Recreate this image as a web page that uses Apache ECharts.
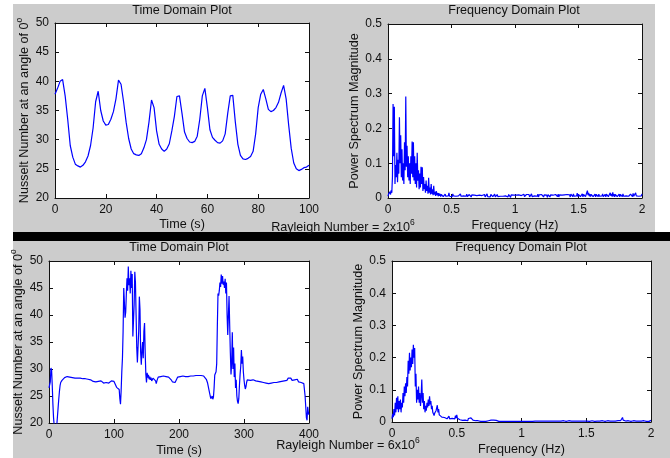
<!DOCTYPE html>
<html>
<head>
<meta charset="utf-8">
<script src="https://cdn.jsdelivr.net/npm/echarts@6/dist/echarts.min.js"></script>
<style>
  html, body { margin: 0; padding: 0; background: #fff; }
  #chart { width: 670px; height: 458px; }
</style>
</head>
<body>
<div id="chart"></div>
<script>
// Ra = 2x10^6, Nusselt number sampled every second (0..100 s)
const nuTopStep = 1;
const nuTop = [
  37.8, 38.8, 40.0, 40.3, 37.5, 33.5, 29.0, 27.0, 25.8, 25.5,
  25.3, 25.6, 26.2, 27.2, 29.0, 32.0, 36.5, 38.3, 35.0, 33.2,
  32.5, 32.6, 33.5, 34.8, 37.0, 40.2, 39.5, 36.5, 33.0, 30.2,
  28.4, 27.6, 27.4, 27.3, 27.6, 28.6, 30.0, 33.0, 36.8, 35.5,
  31.5, 29.2, 28.4, 28.0, 28.4, 29.3, 31.5, 34.0, 37.4, 37.5,
  34.5, 31.3, 30.2, 29.6, 29.5, 29.7, 30.6, 33.5, 37.5, 38.8,
  35.5, 31.7, 30.4, 29.9, 29.5, 29.4, 29.8, 31.0, 34.5, 37.5,
  37.6, 33.0, 29.2, 27.3, 26.7, 26.6, 26.8, 27.1, 28.0, 31.0,
  35.5, 37.8, 38.6, 37.0, 35.2, 34.8, 35.0, 35.5, 36.4, 38.0,
  39.3, 37.0, 32.5, 28.5, 26.0, 25.0, 24.7, 24.9, 25.2, 25.3,
  25.6
];

// Ra = 6x10^6, Nusselt number (0..400 s)
const timeBottom = [
  0, 1, 2, 3, 4, 5, 6, 7, 8, 9, 10, 11, 12, 13, 14, 15, 16, 17, 18, 20,
  22, 24, 26, 28, 30, 32, 34, 36, 38, 40, 42, 44, 46, 48, 50, 52, 54, 56, 58, 60,
  62, 64, 66, 68, 70, 72, 74, 76, 78, 80, 82, 84, 86, 88, 90, 92, 94, 96, 98, 100,
  102, 103, 104, 106, 107, 108, 109, 110, 111, 112, 113, 114, 115, 116, 117, 118, 119, 120, 121, 122,
  123, 124, 125, 126, 127, 128, 129, 130, 131, 132, 133, 134, 135, 136, 137, 138, 139, 140, 141, 142,
  143, 144, 145, 146, 147, 148, 149, 150, 151, 152, 153, 154, 155, 156, 157, 158, 160, 162, 164, 165,
  166, 168, 170, 172, 174, 176, 178, 180, 182, 184, 186, 188, 190, 192, 194, 196, 198, 200, 202, 204,
  206, 208, 210, 212, 214, 216, 218, 220, 222, 224, 226, 228, 230, 232, 234, 236, 238, 240, 242, 244,
  246, 248, 249, 250, 251, 252, 253, 254, 255, 256, 257, 258, 259, 260, 261, 262, 263, 264, 265, 266,
  267, 268, 269, 270, 271, 272, 273, 274, 275, 276, 277, 278, 279, 280, 281, 282, 283, 284, 285, 286,
  287, 288, 289, 290, 291, 292, 293, 294, 295, 296, 297, 298, 299, 300, 301, 302, 303, 304, 305, 307,
  310, 312, 314, 316, 318, 320, 322, 324, 326, 328, 330, 332, 334, 336, 338, 340, 342, 344, 346, 348,
  350, 352, 354, 356, 358, 360, 362, 364, 366, 368, 370, 372, 374, 376, 378, 380, 382, 384, 386, 388,
  390, 392, 393, 394, 395, 396, 397, 398, 399, 400
];
const nuBottom = [
  26.5, 26.2, 27.6, 30.2, 29.8, 27.0, 23.5, 21.0, 19.5, 18.6, 18.4, 18.8, 19.6, 21.2, 22.8, 24.4, 25.8, 26.9, 27.5, 27.9,
  28.2, 28.4, 28.2, 28.6, 28.3, 28.5, 28.2, 28.4, 28.1, 28.3, 28.0, 28.3, 28.1, 28.3, 28.0, 28.2, 27.9, 28.2, 28.0, 28.1,
  27.8, 28.0, 27.9, 27.7, 27.9, 27.6, 27.8, 27.7, 27.5, 27.8, 27.6, 27.4, 27.7, 27.5, 27.7, 27.4, 27.6, 27.8, 27.5, 27.7,
  27.9, 27.6, 26.6, 26.4, 26.7, 26.2, 24.5, 23.5, 26.0, 29.5, 32.0, 37.0, 45.0, 44.8, 39.5, 40.5, 44.0, 46.8, 44.5, 49.0,
  45.5, 46.8, 44.0, 48.2, 45.0, 47.6, 36.0, 35.7, 42.0, 48.0, 46.0, 40.0, 34.0, 31.2, 31.0, 37.0, 43.4, 41.0, 33.0, 30.8,
  33.5, 35.0, 32.0, 37.0, 38.5, 33.0, 29.0, 27.5, 29.3, 28.4, 28.9, 28.1, 28.6, 28.0, 28.4, 27.8, 28.3, 28.6, 27.8, 27.3,
  27.8, 28.5, 28.8, 28.6, 28.9, 28.7, 28.9, 28.6, 28.8, 28.5, 28.4, 28.0, 27.6, 27.3, 27.5, 28.0, 28.5, 28.8, 28.6, 28.9,
  28.7, 28.9, 28.6, 28.8, 28.6, 28.9, 28.7, 28.9, 28.7, 29.0, 28.8, 29.1, 28.8, 29.0, 28.8, 29.1, 28.7, 28.5, 28.1, 27.4,
  26.2, 25.0, 24.5, 24.3, 25.0, 24.4, 24.8, 26.5, 28.9, 29.2, 29.5, 31.0, 38.0, 44.0, 43.6, 44.5, 46.0, 45.2, 47.5, 45.8,
  47.2, 45.6, 46.2, 45.0, 46.7, 44.0, 46.0, 40.0, 36.3, 40.0, 43.5, 38.0, 33.0, 29.0, 31.0, 36.8, 30.0, 34.0, 28.5, 31.0,
  26.5, 28.0, 25.0, 24.0, 23.6, 24.5, 27.0, 29.0, 30.5, 33.5, 31.0, 32.3, 29.5, 28.0, 27.0, 26.3, 26.7, 27.5, 28.0, 28.2,
  27.9, 28.2, 28.0, 28.1, 27.8, 28.0, 27.7, 27.9, 27.6, 27.8, 27.5, 27.7, 27.4, 27.6, 27.3, 27.6, 27.4, 27.7, 27.5, 27.8,
  27.5, 27.7, 27.6, 27.9, 27.7, 28.0, 27.8, 28.1, 27.9, 28.3, 28.0, 28.3, 27.9, 27.7, 28.0, 27.8, 28.1, 27.6, 27.8, 27.5,
  27.6, 27.3, 27.0, 25.0, 23.0, 21.0, 20.5, 23.0, 22.0, 21.5
];

// power spectra, 0..2 Hz every 0.005 Hz
const freqStep = 0.005;
const psdTop = [
  0.005, 0.012, 0.008, 0.018, 0.010, 0.022, 0.015, 0.060, 0.270, 0.120, 0.262, 0.040, 0.095, 0.060, 0.130, 0.045, 0.110, 0.070, 0.232, 0.100,
  0.180, 0.060, 0.140, 0.050, 0.100, 0.040, 0.160, 0.080, 0.292, 0.090, 0.150, 0.060, 0.120, 0.050, 0.100, 0.040, 0.120, 0.070, 0.162, 0.060,
  0.160, 0.050, 0.120, 0.040, 0.100, 0.030, 0.130, 0.050, 0.080, 0.025, 0.070, 0.030, 0.090, 0.040, 0.088, 0.020, 0.060, 0.025, 0.040, 0.015,
  0.050, 0.020, 0.035, 0.012, 0.058, 0.015, 0.030, 0.010, 0.040, 0.012, 0.025, 0.008, 0.035, 0.010, 0.018, 0.006, 0.020, 0.008, 0.015, 0.005,
  0.014, 0.006, 0.012, 0.004, 0.010,
  0.006, 0.012, 0.004, 0.009, 0.003, 0.011, 0.005, 0.008, 0.004, 0.010, 0.006, 0.015, 0.005, 0.009, 0.003, 0.010,
  0.004, 0.012, 0.006, 0.009, 0.003, 0.011, 0.005, 0.008, 0.002, 0.010, 0.006, 0.009, 0.004, 0.012, 0.005, 0.007, 0.003, 0.010, 0.006, 0.008,
  0.003, 0.009, 0.005, 0.011, 0.004, 0.008, 0.002, 0.010, 0.005, 0.007, 0.003, 0.009, 0.006, 0.012, 0.004, 0.008, 0.003, 0.010, 0.005, 0.007,
  0.004, 0.009, 0.003, 0.008, 0.006, 0.011, 0.004, 0.007, 0.002, 0.009, 0.005, 0.010, 0.003, 0.008, 0.006, 0.012, 0.004, 0.009, 0.005, 0.008,
  0.003, 0.010, 0.006, 0.013, 0.004, 0.009, 0.005, 0.011, 0.003, 0.008, 0.006, 0.010, 0.004, 0.007, 0.002, 0.009, 0.005, 0.008, 0.003, 0.010,
  0.005, 0.008, 0.003, 0.009, 0.006, 0.011, 0.004, 0.007, 0.003, 0.010, 0.005, 0.008, 0.002, 0.009, 0.006, 0.010, 0.004, 0.008, 0.005, 0.011,
  0.004, 0.008, 0.003, 0.010, 0.006, 0.009, 0.004, 0.012, 0.005, 0.007, 0.003, 0.009, 0.006, 0.011, 0.004, 0.008, 0.002, 0.010, 0.005, 0.009,
  0.006, 0.010, 0.003, 0.008, 0.005, 0.012, 0.004, 0.009, 0.003, 0.007, 0.006, 0.010, 0.004, 0.008, 0.005, 0.011, 0.003, 0.009, 0.006, 0.008,
  0.004, 0.010, 0.005, 0.008, 0.003, 0.009, 0.006, 0.011, 0.004, 0.008, 0.002, 0.010, 0.005, 0.007, 0.003, 0.009, 0.006, 0.012, 0.004, 0.008,
  0.005, 0.009, 0.003, 0.010, 0.006, 0.008, 0.004, 0.011, 0.003, 0.009, 0.005, 0.012, 0.004, 0.008, 0.006, 0.010, 0.003, 0.009, 0.005, 0.011,
  0.004, 0.010, 0.006, 0.013, 0.005, 0.009, 0.003, 0.011, 0.006, 0.008, 0.004, 0.012, 0.005, 0.010, 0.003, 0.009, 0.006, 0.014, 0.004, 0.010,
  0.005, 0.011, 0.004, 0.009, 0.006, 0.012, 0.003, 0.010, 0.005, 0.013, 0.004, 0.009, 0.006, 0.021, 0.008, 0.015, 0.005, 0.011, 0.004, 0.010,
  0.006, 0.012, 0.004, 0.009, 0.005, 0.011, 0.003, 0.010, 0.006, 0.008, 0.004, 0.011, 0.005, 0.009, 0.003, 0.010, 0.006, 0.012, 0.004, 0.009,
  0.005, 0.010, 0.003, 0.011, 0.006, 0.013, 0.004, 0.009, 0.005, 0.015, 0.006, 0.012, 0.004, 0.016, 0.005, 0.011, 0.003, 0.010, 0.006, 0.012,
  0.004, 0.009, 0.005, 0.011, 0.003, 0.010, 0.006, 0.008, 0.004, 0.012, 0.005, 0.009, 0.003, 0.010, 0.006, 0.011, 0.004, 0.008, 0.005, 0.010,
  0.003, 0.011, 0.006, 0.009, 0.004, 0.013, 0.005, 0.010, 0.003, 0.015, 0.006, 0.009, 0.004, 0.011, 0.005, 0.008, 0.003, 0.010, 0.006, 0.012
];
const psdBottom = [
  0.010, 0.025, 0.015, 0.040, 0.020, 0.060, 0.030, 0.075, 0.040, 0.080, 0.030, 0.065, 0.040, 0.070, 0.030, 0.060, 0.045, 0.090, 0.060, 0.110,
  0.080, 0.120, 0.090, 0.140, 0.110, 0.190, 0.150, 0.215, 0.160, 0.200, 0.170, 0.225, 0.180, 0.240, 0.200, 0.230, 0.110, 0.150, 0.060, 0.100,
  0.070, 0.110, 0.060, 0.090, 0.050, 0.080, 0.132, 0.060, 0.090, 0.040, 0.065, 0.030, 0.050, 0.035, 0.060, 0.045, 0.070, 0.050, 0.080, 0.055,
  0.065, 0.040, 0.050, 0.030, 0.035, 0.020, 0.028, 0.022, 0.035, 0.030, 0.052, 0.030, 0.040, 0.022, 0.028, 0.018, 0.022, 0.015, 0.020, 0.012,
  0.018,
  0.014, 0.020, 0.012, 0.017, 0.010, 0.016, 0.012, 0.018, 0.010, 0.014, 0.008, 0.015, 0.011, 0.017, 0.009, 0.013, 0.010, 0.020, 0.012, 0.022,
  0.012, 0.016, 0.009, 0.013, 0.007, 0.011, 0.006, 0.010, 0.005, 0.009, 0.004, 0.008, 0.006, 0.010, 0.005, 0.008, 0.004, 0.011, 0.007, 0.012,
  0.008, 0.013, 0.009, 0.012, 0.006, 0.010, 0.005, 0.008, 0.004, 0.007, 0.003, 0.006, 0.004, 0.007, 0.003, 0.005, 0.002, 0.006, 0.003, 0.005,
  0.002, 0.005, 0.003, 0.006, 0.002, 0.004, 0.003, 0.006, 0.004, 0.007, 0.005, 0.008, 0.006, 0.009, 0.007, 0.010, 0.006, 0.011, 0.007, 0.009,
  0.005, 0.007, 0.003, 0.006, 0.002, 0.005, 0.003, 0.006, 0.002, 0.004, 0.003, 0.005, 0.002, 0.006, 0.003, 0.005, 0.002, 0.004, 0.003, 0.006,
  0.002, 0.005, 0.003, 0.004, 0.002, 0.006, 0.003, 0.005, 0.002, 0.004, 0.003, 0.006, 0.002, 0.005, 0.003, 0.004, 0.002, 0.005, 0.003, 0.006,
  0.002, 0.004, 0.003, 0.006, 0.002, 0.005, 0.003, 0.004, 0.002, 0.006, 0.003, 0.005, 0.002, 0.004, 0.003, 0.006, 0.002, 0.005, 0.003, 0.004,
  0.003, 0.006, 0.002, 0.005, 0.003, 0.004, 0.002, 0.006, 0.003, 0.005, 0.002, 0.004, 0.003, 0.007, 0.002, 0.005, 0.003, 0.004, 0.002, 0.006,
  0.003, 0.005, 0.002, 0.006, 0.003, 0.004, 0.002, 0.005, 0.003, 0.007, 0.002, 0.005, 0.003, 0.006, 0.002, 0.004, 0.003, 0.006, 0.002, 0.005,
  0.003, 0.006, 0.002, 0.005, 0.004, 0.007, 0.003, 0.005, 0.002, 0.006, 0.003, 0.007, 0.004, 0.006, 0.002, 0.005, 0.003, 0.007, 0.004, 0.006,
  0.003, 0.007, 0.004, 0.008, 0.003, 0.006, 0.004, 0.009, 0.003, 0.007, 0.005, 0.008, 0.003, 0.006, 0.004, 0.009, 0.003, 0.007, 0.004, 0.008,
  0.003, 0.006, 0.004, 0.007, 0.002, 0.006, 0.003, 0.005, 0.004, 0.007, 0.003, 0.006, 0.002, 0.005, 0.004, 0.007, 0.003, 0.005, 0.002, 0.006,
  0.003, 0.005, 0.002, 0.006, 0.004, 0.007, 0.003, 0.005, 0.002, 0.006, 0.003, 0.005, 0.004, 0.007, 0.002, 0.005, 0.003, 0.006, 0.002, 0.005,
  0.003, 0.006, 0.004, 0.007, 0.003, 0.005, 0.002, 0.008, 0.004, 0.006, 0.003, 0.009, 0.004, 0.007, 0.005, 0.014, 0.006, 0.012, 0.004, 0.008,
  0.003, 0.006, 0.002, 0.005, 0.004, 0.007, 0.003, 0.005, 0.002, 0.006, 0.003, 0.007, 0.004, 0.005, 0.002, 0.006, 0.003, 0.005, 0.002, 0.006,
  0.003, 0.005, 0.004, 0.007, 0.003, 0.006, 0.002, 0.005, 0.004, 0.008, 0.003, 0.006, 0.002, 0.005, 0.003, 0.006, 0.002, 0.004, 0.003, 0.005
];

const FONT = 'Liberation Sans';
const INK = '#111111';
const BLUE = '#0000ff';
const TXT = 12.6;

const supRich = {
  a: { fontFamily: FONT, fontSize: TXT, color: INK, lineHeight: 16, verticalAlign: 'bottom' },
  s: { fontFamily: FONT, fontSize: 8.5, color: INK, lineHeight: 16, verticalAlign: 'top' }
};

function xAxes (grid, min, max, interval, name, gap) {
  const base = {
    type: 'value', gridIndex: grid, min: min, max: max, interval: interval,
    splitLine: { show: false },
    axisLine: { show: true, onZero: false, lineStyle: { color: INK, width: 1 } },
    axisTick: { show: true, inside: true, length: 4, lineStyle: { color: INK } }
  };
  return [
    Object.assign({}, base, {
      position: 'bottom',
      name: name, nameLocation: 'middle', nameGap: gap,
      nameTextStyle: { fontFamily: FONT, fontSize: TXT, color: INK },
      axisLabel: { fontFamily: FONT, fontSize: 12, color: INK, margin: 6 }
    }),
    Object.assign({}, base, { position: 'top', axisLabel: { show: false } })
  ];
}

function yAxes (grid, min, max, interval, name, gap) {
  const base = {
    type: 'value', gridIndex: grid, min: min, max: max, interval: interval,
    splitLine: { show: false },
    axisLine: { show: true, onZero: false, lineStyle: { color: INK, width: 1 } },
    axisTick: { show: true, inside: true, length: 4, lineStyle: { color: INK } }
  };
  return [
    Object.assign({}, base, {
      position: 'left',
      name: name, nameLocation: 'middle', nameGap: gap, nameRotate: 90,
      nameTextStyle: { fontFamily: FONT, fontSize: TXT, color: INK, rich: supRich },
      axisLabel: { fontFamily: FONT, fontSize: 12, color: INK, margin: 6 }
    }),
    Object.assign({}, base, { position: 'right', axisLabel: { show: false } })
  ];
}

function label (text, x, y) {
  return {
    type: 'text', x: x, y: y, z: 10,
    style: { text: text, fill: INK, font: TXT + 'px "' + FONT + '"', align: 'center', verticalAlign: 'middle', rich: supRich }
  };
}

const nusseltName = '{a|Nusselt Number at an angle of 0}{s|o}';

const chart = echarts.init(document.getElementById('chart'), null, { renderer: 'canvas' });
chart.setOption({
  backgroundColor: '#ffffff',
  animation: false,
  graphic: [
    { type: 'rect', z: -10, shape: { x: 13, y: 4, width: 642, height: 228 }, style: { fill: '#cccccc' } },
    { type: 'rect', z: -10, shape: { x: 13, y: 241, width: 657, height: 217 }, style: { fill: '#cccccc' } },
    { type: 'rect', z: -10, shape: { x: 13, y: 232, width: 657, height: 9 }, style: { fill: '#000000' } },
    label('Time Domain Plot', 182, 11),
    label('Frequency Domain Plot', 514, 11),
    label('{a|Rayleigh Number = 2x10}{s|6}', 343, 226),
    label('Time Domain Plot', 179, 248),
    label('Frequency Domain Plot', 521, 248),
    label('{a|Rayleigh Number = 6x10}{s|6}', 348, 444)
  ],
  grid: [
    { left: 55, top: 23, width: 254, height: 175, show: true, backgroundColor: '#fff', borderWidth: 0 },
    { left: 388, top: 24, width: 254, height: 174, show: true, backgroundColor: '#fff', borderWidth: 0 },
    { left: 49, top: 261, width: 260, height: 162, show: true, backgroundColor: '#fff', borderWidth: 0 },
    { left: 392, top: 261, width: 259, height: 161, show: true, backgroundColor: '#fff', borderWidth: 0 }
  ],
  xAxis: [].concat(
    xAxes(0, 0, 100, 20, 'Time (s)', 20),
    xAxes(1, 0, 2, 0.5, 'Frequency (Hz)', 21),
    xAxes(2, 0, 400, 100, 'Time (s)', 21),
    xAxes(3, 0, 2, 0.5, 'Frequency (Hz)', 21)
  ),
  yAxis: [].concat(
    yAxes(0, 20, 50, 5, nusseltName, 24),
    yAxes(1, 0, 0.5, 0.1, 'Power Spectrum Magnitude', 26),
    yAxes(2, 20, 50, 5, nusseltName, 24),
    yAxes(3, 0, 0.5, 0.1, 'Power Spectrum Magnitude', 26)
  ),
  series: [
    {
      type: 'line', xAxisIndex: 0, yAxisIndex: 0, showSymbol: false,
      lineStyle: { color: BLUE, width: 1.2 },
      data: nuTop.map((v, i) => [i * nuTopStep, v])
    },
    {
      type: 'line', xAxisIndex: 2, yAxisIndex: 2, showSymbol: false,
      lineStyle: { color: BLUE, width: 1.2 },
      data: psdTop.map((v, i) => [i * freqStep, v])
    },
    {
      type: 'line', xAxisIndex: 4, yAxisIndex: 4, showSymbol: false,
      lineStyle: { color: BLUE, width: 1.2 },
      data: nuBottom.map((v, i) => [timeBottom[i], v])
    },
    {
      type: 'line', xAxisIndex: 6, yAxisIndex: 6, showSymbol: false,
      lineStyle: { color: BLUE, width: 1.2 },
      data: psdBottom.map((v, i) => [i * freqStep, v])
    }
  ]
});
</script>
</body>
</html>
